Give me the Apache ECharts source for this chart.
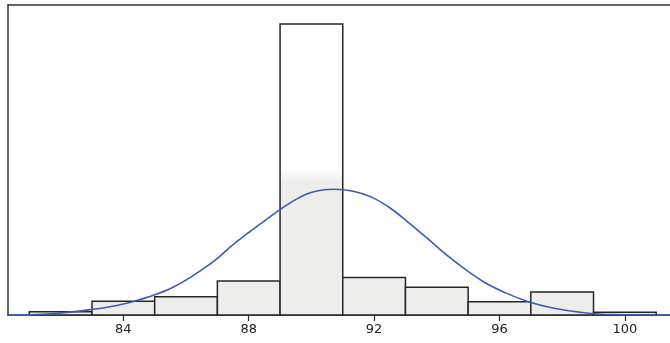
<!DOCTYPE html>
<html>
<head>
<meta charset="utf-8">
<script src="https://cdn.jsdelivr.net/npm/echarts@6/dist/echarts.min.js"></script>
<style>html,body{margin:0;padding:0;background:#fff}#c{width:670px;height:343px}</style>
</head>
<body>
<div id="c"></div>
<script>
// Histogram bin edges (lower, upper) and frequencies
var binLower = [81, 83, 85, 87, 89, 91, 93, 95, 97, 99];
var binUpper = [83, 85, 87, 89, 91, 93, 95, 97, 99, 101];
var frequency = [1.0, 4.2, 5.5, 10.3, 88.2, 11.4, 8.4, 4.0, 7.0, 0.8];
// Fitted curve points
var curveX = [80.31, 81.2, 82.2, 83.0, 83.8, 84.4, 85.0, 85.6, 86.2, 86.9, 87.5, 88.0, 88.6, 89.1, 89.6, 90.1, 90.7, 91.3, 91.9, 92.5, 93.1, 93.7, 94.3, 94.9, 95.5, 96.2, 96.9, 97.7, 98.6, 99.6, 101.44];
var curveY = [0, 0.1, 0.8, 1.7, 2.9, 4.3, 6.1, 8.5, 11.8, 16.4, 21.3, 25.0, 29.2, 32.6, 35.5, 37.4, 38.1, 37.6, 35.8, 32.5, 28.0, 23.2, 18.3, 13.9, 10.0, 6.7, 4.1, 2.1, 0.8, 0.1, 0];
var tickValues = [84, 88, 92, 96, 100];

var barData = binLower.map(function (lo, i) { return [lo, binUpper[i], frequency[i]]; });
var lineData = curveX.map(function (x, i) { return [x, curveY[i]]; });

var frameLine = { show: true, onZero: false, lineStyle: { color: '#333', width: 1.5 } };

var chart = echarts.init(document.getElementById('c'));
chart.setOption({
  animation: false,
  backgroundColor: '#fff',
  grid: { left: 8, top: 5, right: 0, bottom: 28, show: false },
  xAxis: [{
    type: 'value', min: 80.32, max: 101.44,
    splitLine: { show: false },
    axisLine: { show: true, onZero: false, lineStyle: { color: '#2a2a2a', width: 1.5 } },
    axisTick: { show: true, customValues: tickValues, length: 6, lineStyle: { color: '#2a2a2a', width: 1.2 } },
    axisLabel: { customValues: tickValues, color: '#222', fontFamily: 'DejaVu Sans', fontSize: 13, margin: 8 }
  }, {
    type: 'value', position: 'top', min: 80.32, max: 101.44,
    splitLine: { show: false }, axisTick: { show: false }, axisLabel: { show: false },
    axisLine: frameLine
  }],
  yAxis: {
    type: 'value', min: 0, max: 93.94,
    splitLine: { show: false }, axisTick: { show: false }, axisLabel: { show: false },
    axisLine: frameLine
  },
  series: [
    {
      type: 'custom',
      data: barData,
      encode: { x: [0, 1], y: 2 },
      renderItem: function (params, api) {
        var p0 = api.coord([api.value(0), api.value(2)]);
        var p1 = api.coord([api.value(1), 0]);
        return {
          type: 'rect',
          shape: { x: p0[0], y: p0[1], width: p1[0] - p0[0], height: p1[1] - p0[1] },
          style: {
            fill: {
              type: 'linear', x: 0, y: 0, x2: 0, y2: 343, global: true,
              colorStops: [
                { offset: 0, color: '#ffffff' },
                { offset: 0.49, color: '#ffffff' },
                { offset: 0.53, color: '#edeeec' },
                { offset: 1, color: '#edeeec' }
              ]
            },
            stroke: '#262626',
            lineWidth: 1.5
          }
        };
      },
      z: 2
    },
    {
      type: 'line',
      data: lineData,
      smooth: 0.4,
      smoothMonotone: 'none',
      symbol: 'none',
      lineStyle: { color: '#3b5db3', width: 1.6 },
      z: 3
    }
  ]
});
</script>
</body>
</html>
